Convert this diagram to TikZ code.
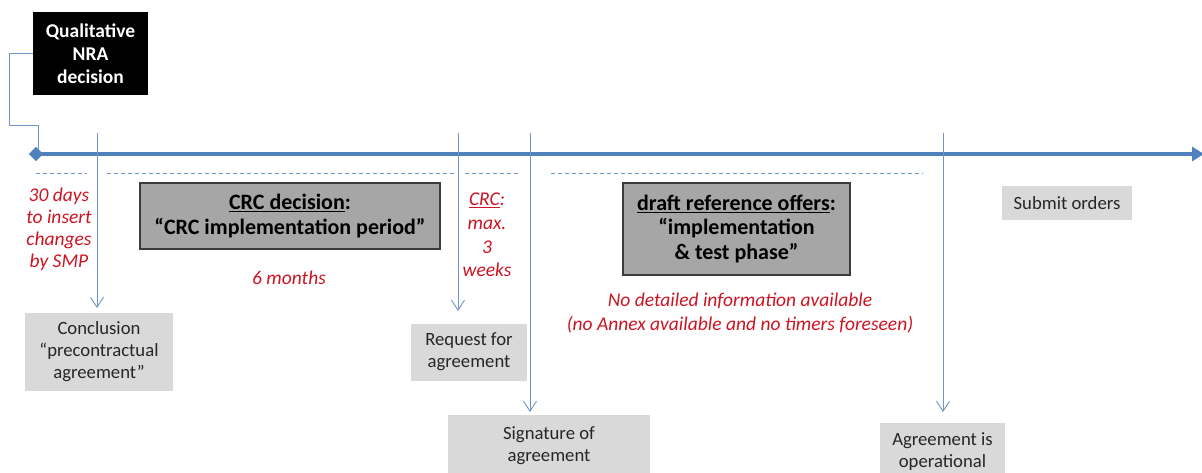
\documentclass[tikz,border=0pt]{standalone}
\usepackage{fontspec}
\setmainfont{Carlito}
\usetikzlibrary{arrows.meta}
\definecolor{tlblue}{RGB}{79,129,189}
\definecolor{thinblue}{RGB}{110,150,200}
\definecolor{redtxt}{RGB}{205,20,35}
\definecolor{lightgray}{RGB}{217,217,217}
\definecolor{midgray}{RGB}{166,166,166}
\definecolor{darkborder}{RGB}{60,60,60}
\tikzset{
  lightbox/.style={fill=lightgray,draw=none,inner sep=0pt,align=center,
    font=\fontsize{18.7}{22}\selectfont,text=black!85},
  darkbox/.style={fill=midgray,draw=darkborder,line width=1.3pt,inner sep=0pt,align=center,
    font=\fontsize{22}{24.5}\selectfont\bfseries},
  redtext/.style={text=redtxt,align=center,inner sep=0pt,font=\fontsize{19.5}{22}\selectfont\itshape},
  thinline/.style={draw=thinblue,line width=0.9pt},
  arrowline/.style={thinline,-{Straight Barb[length=10pt,width=13pt]}},
  dashline/.style={draw=thinblue,line width=0.8pt,dash pattern=on 4pt off 3pt},
}
\begin{document}
\begin{tikzpicture}[x=1pt,y=-1pt]
\useasboundingbox (0,0) rectangle (1202,473);
\clip (0,0) rectangle (1202,473);

% timeline
\coordinate (start) at (36,154);
\coordinate (tlend) at (1204,154);
\draw[draw=tlblue,line width=4.5pt,-{Triangle[length=12pt,width=14pt]}] (start) -- (tlend);
\node[fill=tlblue,shape=rectangle,rotate=45,minimum size=10pt,inner sep=0pt] (dia) at (start) {};

% black box
\node[fill=black,text=white,inner sep=0pt,minimum width=115pt,minimum height=83pt,align=center,
  font=\fontsize{19.5}{23}\selectfont\bfseries] (qual) at (90.5,53.5) {Qualitative\\NRA\\decision};
\coordinate (k1) at (9,125);
\coordinate (k2) at (38,125);
\coordinate (k3) at (38,150);
\draw[thinline] (qual.west) -| (k1) -- (k2) -- (k3);

% dashed lines
\coordinate (d1a) at (36,173); \coordinate (d1b) at (87,173);
\coordinate (d2a) at (107,173); \coordinate (d2b) at (454,173);
\coordinate (d3a) at (465,173); \coordinate (d3b) at (518,173);
\coordinate (d4a) at (551,173); \coordinate (d4b) at (923,173);
\draw[dashline] (d1a) -- (d1b);
\draw[dashline] (d2a) -- (d2b);
\draw[dashline] (d3a) -- (d3b);
\draw[dashline] (d4a) -- (d4b);

% dark boxes
\node[darkbox,minimum width=300pt,minimum height=66pt] (crc) at (290,216)
  {\underline{CRC decision}:\\“CRC implementation period”};
\node[darkbox,minimum width=227pt,minimum height=92pt] (draft) at (736.5,229)
  {\underline{draft reference offers}:\\“implementation\\\& test phase”};

% light boxes
\node[lightbox,minimum width=148pt,minimum height=78pt] (conc) at (99,352)
  {Conclusion\\“precontractual\\agreement”};
\node[lightbox,minimum width=116pt,minimum height=57pt] (req) at (469,352)
  {Request for\\agreement};
\node[lightbox,minimum width=202pt,minimum height=62pt] (sig) at (549,446)
  {Signature of\\agreement};
\node[lightbox,minimum width=125pt,minimum height=58pt] (agr) at (942.5,452)
  {Agreement is\\operational};
\node[lightbox,minimum width=130pt,minimum height=34pt] (sub) at (1067,203)
  {Submit orders};

% red texts
\node[redtext] (days) at (59,229) {30 days\\to insert\\changes\\by SMP};
\node[redtext] (months) at (289,278) {6 months};
\node[redtext,font=\fontsize{19.5}{23.8}\selectfont\itshape] (crcmax) at (487,235) {\underline{CRC}:\\max.\\3\\weeks};
\node[redtext,font=\fontsize{19.5}{24.5}\selectfont\itshape] (noinfo) at (740,313) {No detailed information available\\ (no Annex available and no timers foreseen)};

% vertical arrows
\coordinate (t1) at (97,133);
\coordinate (t2) at (458,133);
\coordinate (t3) at (530,133);
\coordinate (t4) at (943,133);
\coordinate (e1) at (97,308);
\coordinate (e2) at (458,311);
\coordinate (e3) at (530,412);
\coordinate (e4) at (943,412);
\draw[arrowline] (t1) -- (e1);
\draw[arrowline] (t2) -- (e2);
\draw[arrowline] (t3) -- (e3);
\draw[arrowline] (t4) -- (e4);
\end{tikzpicture}
\end{document}
